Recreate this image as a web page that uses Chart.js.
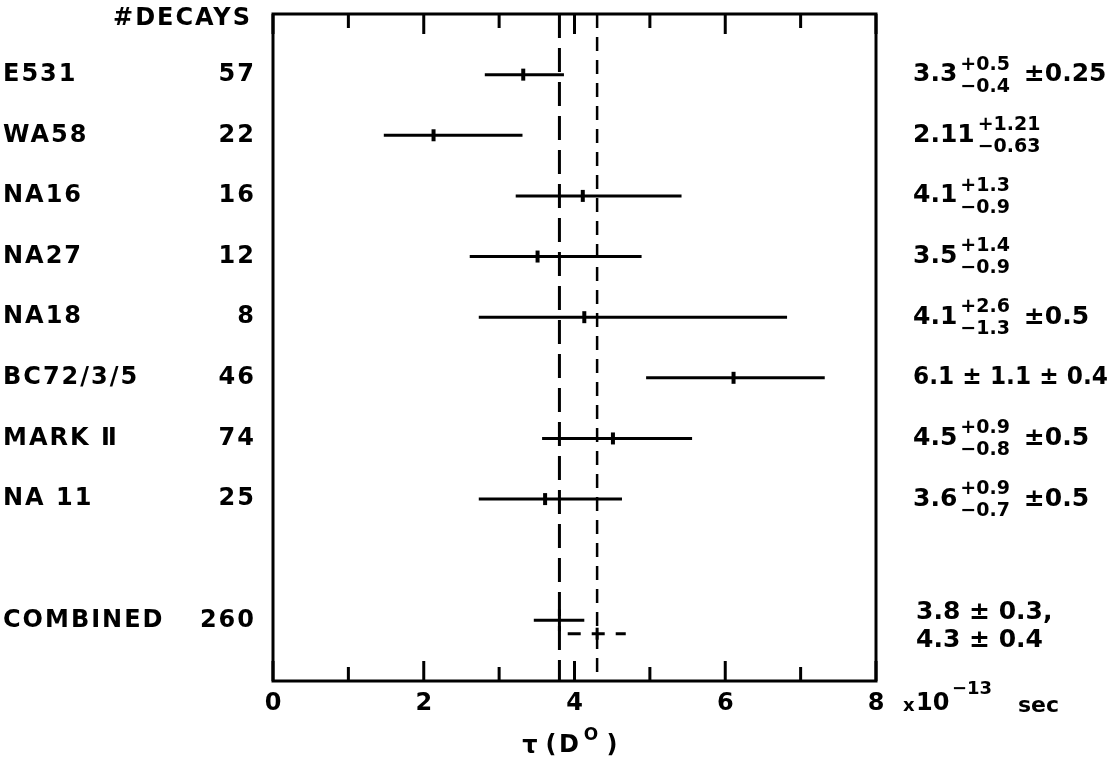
<!DOCTYPE html>
<html>
<head>
<meta charset="utf-8">
<script src="https://cdn.jsdelivr.net/npm/chart.js@4"></script>
<style>
    html, body { margin: 0; padding: 0; background: #fff; }
    #wrap { width: 1120px; height: 761px; position: relative; }
</style>
</head>
<body>
<div id="wrap"><canvas id="chart"></canvas></div>
<script>
const experiments = ['E531', 'WA58', 'NA16', 'NA27', 'NA18', 'BC72/3/5', 'MARK \u2161', 'NA 11', 'COMBINED'];
const decays = ['57', '22', '16', '12', '8', '46', '74', '25', '260'];
const rowPos = [0, 1, 2, 3, 4, 5, 6, 7, 9];
const central = [3.32, 2.13, 4.11, 3.51, 4.13, 6.11, 4.51, 3.61, 3.80];
const lowEdge = [2.81, 1.47, 3.22, 2.61, 2.73, 4.95, 3.57, 2.73, 3.46];
const highEdge = [3.86, 3.31, 5.42, 4.89, 6.82, 7.32, 5.56, 4.63, 4.13];

// second combined value (dashed)
const combined2Row = 9.22;
const combined2 = [3.91, 4.30, 4.68];

// dashed vertical reference lines
const refLines = [3.8, 4.3];

// quoted results on the right
const quoted = ['3.3', '2.11', '4.1', '3.5', '4.1', '6.1 \u00b1 1.1 \u00b1 0.4', '4.5', '3.6'];
const errPlus = ['+0.5', '+1.21', '+1.3', '+1.4', '+2.6', '', '+0.9', '+0.9'];
const errMinus = ['\u22120.4', '\u22120.63', '\u22120.9', '\u22120.9', '\u22121.3', '', '\u22120.8', '\u22120.7'];
const errSyst = ['\u00b10.25', '', '', '', '\u00b10.5', '', '\u00b10.5', '\u00b10.5'];
const combinedText = ['3.8 \u00b1 0.3,', '4.3 \u00b1 0.4'];

const xTicks = [0, 1, 2, 3, 4, 5, 6, 7, 8];
const xTickLabels = ['0', '2', '4', '6', '8'];

const FONT = '"DejaVu Sans", sans-serif';

const datasets = [];

// horizontal error bars
rowPos.forEach(function (r, i) {
    datasets.push({
        type: 'line',
        data: [{ x: lowEdge[i], y: r }, { x: highEdge[i], y: r }],
        borderColor: '#000',
        borderWidth: 3,
        pointRadius: 0
    });
});
datasets.push({
    type: 'line',
    data: [{ x: combined2[0], y: combined2Row }, { x: combined2[2], y: combined2Row }],
    borderColor: '#000',
    borderWidth: 3,
    borderDash: [13, 11],
    pointRadius: 0
});

// central values
datasets.push({
    type: 'scatter',
    data: central.map(function (c, i) { return { x: c, y: rowPos[i] }; }),
    pointStyle: 'line',
    rotation: 90,
    pointRadius: rowPos.map(function (r) { return r === 9 ? 11 : 6; }),
    pointBorderWidth: rowPos.map(function (r) { return r === 9 ? 3 : 4; }),
    borderColor: '#000'
});
datasets.push({
    type: 'scatter',
    data: [{ x: combined2[1], y: combined2Row }],
    pointStyle: 'line',
    rotation: 90,
    pointRadius: 6,
    pointBorderWidth: 3,
    borderColor: '#000'
});

// reference lines
datasets.push({
    type: 'line',
    data: [{ x: refLines[0], y: -1 }, { x: refLines[0], y: 10 }],
    borderColor: '#000',
    borderWidth: 3,
    borderDash: [24, 10],
    pointRadius: 0
});
datasets.push({
    type: 'line',
    data: [{ x: refLines[1], y: -1 }, { x: refLines[1], y: 10 }],
    borderColor: '#000',
    borderWidth: 2.5,
    borderDash: [14, 9],
    pointRadius: 0
});

// text squeezed to a max width
function fitText(ctx, s, x, y, maxW) {
    const w = ctx.measureText(s).width;
    if (w <= maxW) {
        ctx.fillText(s, x, y);
        return;
    }
    ctx.save();
    ctx.translate(x, y);
    ctx.scale(maxW / w, 1);
    ctx.fillText(s, 0, 0);
    ctx.restore();
}

const framePlugin = {
    id: 'frame',
    afterDatasetsDraw: function (chart) {
        const ctx = chart.ctx;
        const a = chart.chartArea;
        const xs = chart.scales.x;
        const ys = chart.scales.y;
        ctx.save();
        ctx.strokeStyle = '#000';
        ctx.fillStyle = '#000';

        // box
        ctx.lineWidth = 3;
        ctx.strokeRect(a.left, a.top, a.right - a.left, a.bottom - a.top);

        // inward ticks, top and bottom
        ctx.lineWidth = 3;
        xTicks.forEach(function (t) {
            const px = xs.getPixelForValue(t);
            const len = t % 2 === 0 ? 20 : 14;
            ctx.beginPath();
            ctx.moveTo(px, a.bottom);
            ctx.lineTo(px, a.bottom - len);
            ctx.moveTo(px, a.top);
            ctx.lineTo(px, a.top + len);
            ctx.stroke();
        });

        // tick labels
        ctx.font = 'bold 24px ' + FONT;
        ctx.textAlign = 'center';
        ctx.textBaseline = 'middle';
        xTickLabels.forEach(function (l) {
            ctx.fillText(l, xs.getPixelForValue(Number(l)), a.bottom + 23);
        });

        // unit
        ctx.textAlign = 'left';
        ctx.font = 'bold 18px ' + FONT;
        ctx.fillText('x', 903, a.bottom + 25);
        ctx.font = 'bold 24px ' + FONT;
        ctx.fillText('10', 916, a.bottom + 23);
        ctx.font = 'bold 18px ' + FONT;
        ctx.fillText('\u221213', 952, a.bottom + 8);
        ctx.font = 'bold 22px ' + FONT;
        ctx.fillText('sec', 1018, a.bottom + 25);

        // axis title
        ctx.textAlign = 'center';
        ctx.font = 'bold 24px ' + FONT;
        ctx.fillText('\u03c4', 530, 747);
        ctx.fillText('(', 551, 746);
        ctx.fillText('D', 569, 746);
        ctx.fillText(')', 612, 746);
        ctx.font = 'bold 17px ' + FONT;
        ctx.fillText('O', 591, 736);

        // left columns
        ctx.font = 'bold 24px ' + FONT;
        ctx.letterSpacing = '2px';
        ctx.textAlign = 'right';
        ctx.fillText('#DECAYS', 252, 19);
        rowPos.forEach(function (r, i) {
            const py = ys.getPixelForValue(r);
            ctx.textAlign = 'left';
            ctx.fillText(experiments[i], 3, py);
            ctx.textAlign = 'right';
            ctx.fillText(decays[i], 256, py);
        });
        ctx.letterSpacing = '0px';

        // right column
        ctx.textAlign = 'left';
        const x0 = 913;
        quoted.forEach(function (q, i) {
            const py = ys.getPixelForValue(rowPos[i]);
            ctx.font = 'bold 25px ' + FONT;
            if (!errPlus[i]) {
                fitText(ctx, q, x0, py, 195);
                return;
            }
            ctx.fillText(q, x0, py);
            let x = x0 + ctx.measureText(q).width + 3;
            ctx.font = 'bold 19px ' + FONT;
            ctx.fillText(errPlus[i], x, py - 10);
            ctx.fillText(errMinus[i], x, py + 12);
            x += Math.max(ctx.measureText(errPlus[i]).width, ctx.measureText(errMinus[i]).width) + 14;
            if (errSyst[i]) {
                ctx.font = 'bold 25px ' + FONT;
                ctx.fillText(errSyst[i], x, py);
            }
        });
        ctx.font = 'bold 25px ' + FONT;
        ctx.fillText(combinedText[0], 916, 612);
        ctx.fillText(combinedText[1], 916, 640);

        ctx.restore();
    }
};

new Chart(document.getElementById('chart'), {
    data: { datasets: datasets },
    options: {
        responsive: true,
        maintainAspectRatio: false,
        animation: false,
        layout: { padding: { left: 273, right: 244, top: 8, bottom: 80 } },
        scales: {
            x: { type: 'linear', min: 0, max: 8, display: false },
            y: { type: 'linear', min: -1, max: 10, reverse: true, display: false }
        },
        plugins: {
            legend: { display: false },
            tooltip: { enabled: false }
        }
    },
    plugins: [framePlugin]
});
</script>
</body>
</html>
